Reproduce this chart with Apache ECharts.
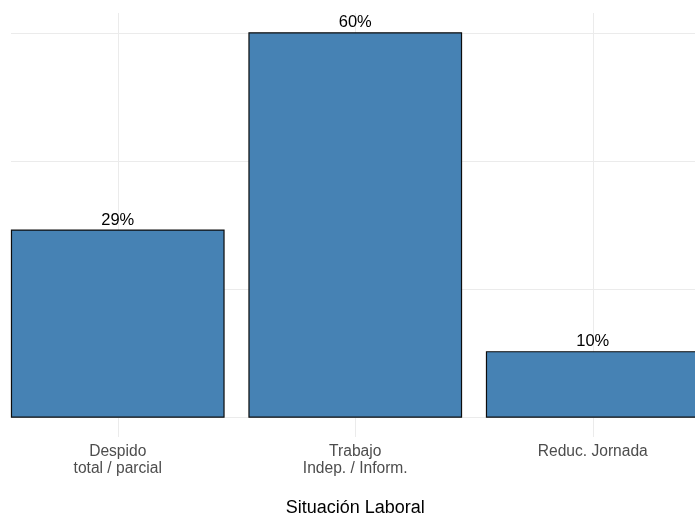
<!DOCTYPE html>
<html>
<head>
<meta charset="utf-8">
<script src="https://cdn.jsdelivr.net/npm/echarts@6/dist/echarts.min.js"></script>
<style>
html,body{margin:0;padding:0;background:#fff;}
#chart{width:695px;height:514px;}
</style>
</head>
<body>
<div id="chart"></div>
<script>
// Data
var categories = ['Despido\ntotal / parcial', 'Trabajo\nIndep. / Inform.', 'Reduc. Jornada'];
var values = [29.4, 60.2, 10.4];
var axisTitle = 'Situación Laboral';

var FONT = 'Liberation Sans, Arial, Helvetica, sans-serif';
var maxVal = Math.max.apply(null, values);
var pad = 0.05 * maxVal;
var yMin = -pad, yMax = maxVal + pad;
var GRID_TOP = 13, GRID_HEIGHT = 424;

var chart = echarts.init(document.getElementById('chart'), null, {renderer: 'canvas'});
chart.setOption({
  backgroundColor: '#ffffff',
  animation: false,
  grid: [
    {left: -1, width: 712.5, top: GRID_TOP, height: GRID_HEIGHT, containLabel: false, outerBoundsMode: 'none'},
    {left: 11, width: 690, top: GRID_TOP, height: GRID_HEIGHT, containLabel: false, outerBoundsMode: 'none'}
  ],
  xAxis: [
    {
      type: 'category', gridIndex: 0, data: categories, boundaryGap: true,
      axisLine: {show: false}, axisTick: {show: false},
      axisLabel: {color: '#4d4d4d', fontFamily: FONT, fontSize: 15.6, lineHeight: 17, margin: 6.5, interval: 0},
      splitLine: {show: true, alignWithLabel: true, lineStyle: {color: '#ebebeb', width: 1}},
      name: axisTitle, nameLocation: 'middle', nameGap: 62,
      nameTextStyle: {color: '#000000', fontFamily: FONT, fontSize: 18}
    },
    {type: 'value', gridIndex: 1, show: false, min: 0, max: 1}
  ],
  yAxis: [
    {type: 'value', gridIndex: 0, min: yMin, max: yMax, show: false, splitLine: {show: false}},
    {
      type: 'value', gridIndex: 1, min: yMin, max: yMax, splitNumber: 3,
      axisLine: {show: false}, axisTick: {show: false}, axisLabel: {show: false},
      splitLine: {show: true, showMinLine: false, showMaxLine: false, lineStyle: {color: '#ebebeb', width: 1}}
    }
  ],
  series: [{
    type: 'bar', xAxisIndex: 0, yAxisIndex: 0,
    data: values, barCategoryGap: '10%',
    itemStyle: {color: '#4682B4', borderColor: '#0d0d0d', borderWidth: 1.2},
    label: {
      show: true, position: 'top', distance: 1,
      color: '#000000', fontFamily: FONT, fontSize: 16.5,
      formatter: function (p) { return Math.round(p.value) + '%'; }
    },
    z: 3
  }]
});
</script>
</body>
</html>
